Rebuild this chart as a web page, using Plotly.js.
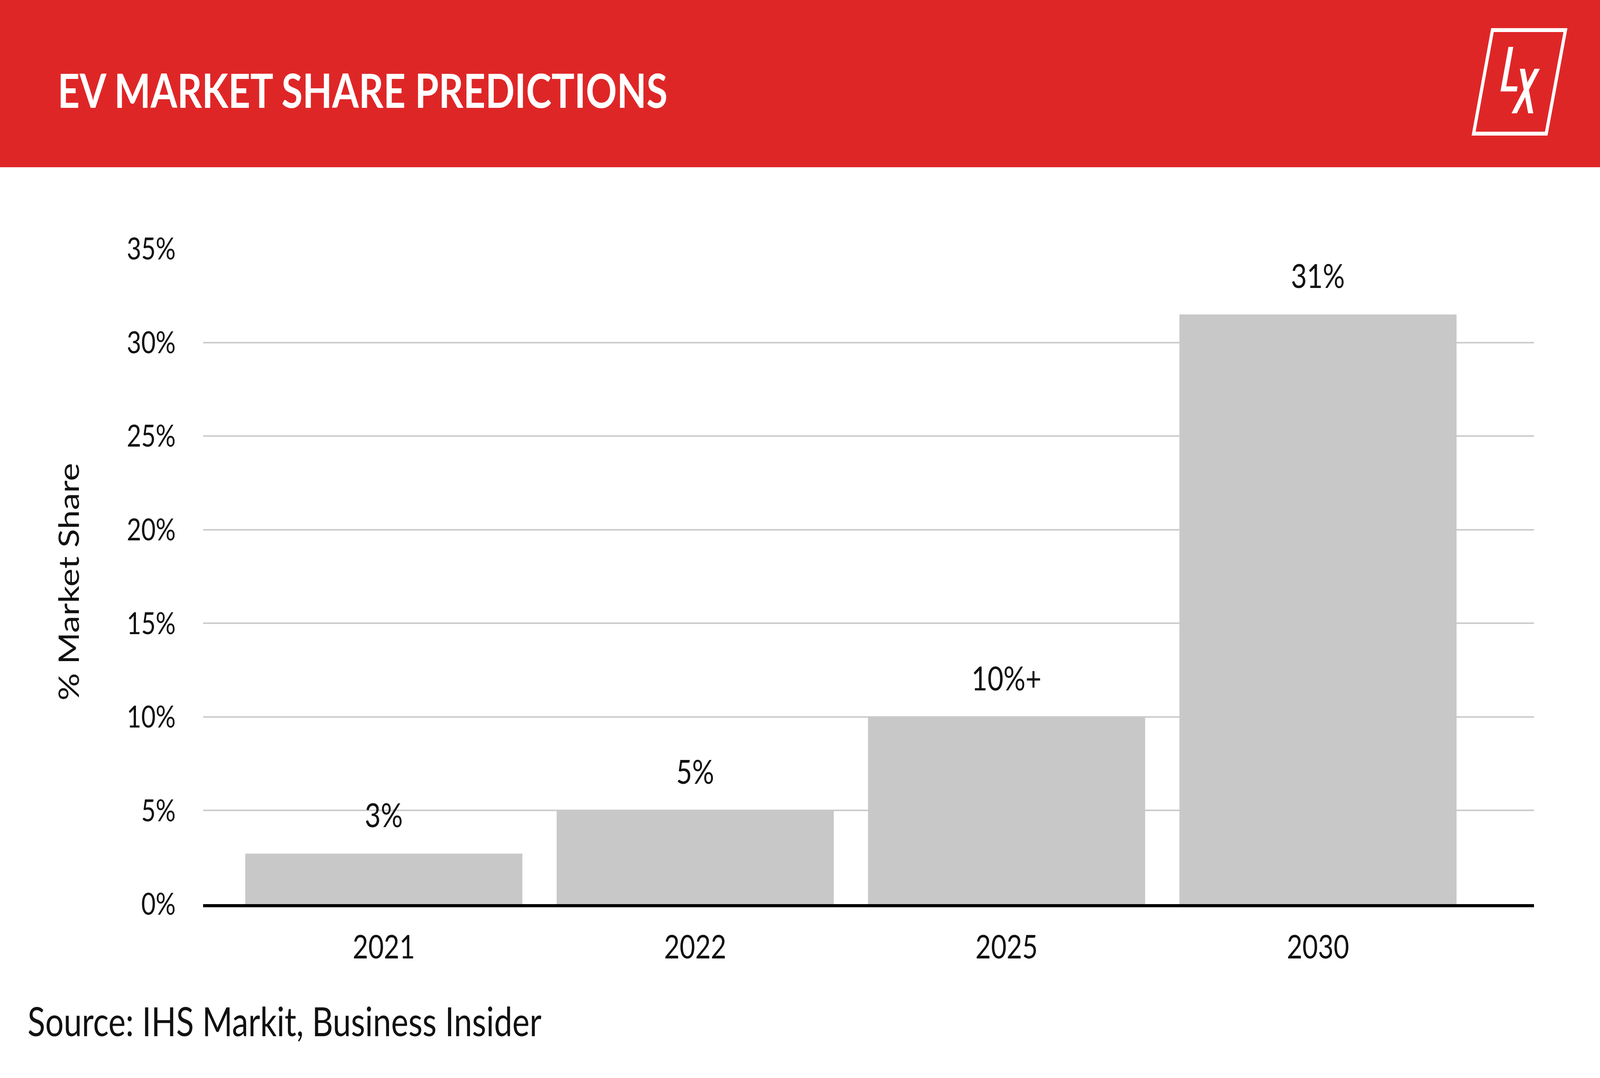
<!DOCTYPE html>
<html>
<head>
<meta charset="utf-8">
<script src="https://cdn.plot.ly/plotly-3.0.1.min.js"></script>
<style>
  html, body { margin: 0; padding: 0; background: #fff; overflow: hidden; }
  #chart { width: 5000px; height: 2759px; transform-origin: 0 0; }
</style>
</head>
<body>
<div id="chart"></div>
<script>
// data
const years = ['2021', '2022', '2025', '2030'];
const share = [2.7, 5, 10, 31.5];
const shareLabels = ['3%', '5%', '10%+', '31%'];
const yTicks = [0, 5, 10, 15, 20, 25, 30, 35];
const yTickText = ['0%', '5%', '10%', '15%', '20%', '25%', '30%', '35%'];

const W = 5000, H = 2759;
const M = { l: 635, r: 206, t: 637, b: 445 };
const plotW = W - M.l - M.r;
const plotH = H - M.t - M.b;

// the window may be narrower than the design size, so squeeze the whole page to fit it
const chartDiv = document.getElementById('chart');
chartDiv.style.transform = 'scale(' + (window.innerWidth / W) + ',' + (window.innerHeight / H) + ')';

// pixel -> paper helpers (for header and logo decoration)
const px = x => (x - M.l) / plotW;
const py = y => (H - M.b - y) / plotH;
function poly(pts) {
    return 'M ' + pts.map(p => px(p[0]) + ',' + py(p[1])).join(' L ') + ' Z';
}

const font = 'Lato, "Open Sans", sans-serif';

const trace = {
    x: years,
    y: share,
    type: 'bar',
    marker: { color: '#c8c8c8' },
    hoverinfo: 'none'
};

// value labels above the bars
const barLabels = years.map((yr, i) => ({
    x: i,
    y: share[i],
    xref: 'x',
    yref: 'y',
    text: shareLabels[i],
    showarrow: false,
    yanchor: 'bottom',
    yshift: 48,
    font: { family: font, size: 86, color: '#111' }
}));

const layout = {
    width: W,
    height: H,
    margin: M,
    paper_bgcolor: '#fff',
    plot_bgcolor: '#fff',
    showlegend: false,
    bargap: 0.11,
    xaxis: {
        type: 'category',
        range: [-0.58, 3.694],
        showgrid: false,
        showline: true,
        linecolor: '#000',
        linewidth: 8,
        ticks: '',
        ticklabelstandoff: 30,
        tickfont: { family: font, size: 84, color: '#111' },
        fixedrange: true
    },
    yaxis: {
        range: [0, 35],
        tickvals: yTicks,
        ticktext: yTickText,
        showgrid: true,
        gridcolor: '#cccccc',
        gridwidth: 4,
        zeroline: false,
        showline: false,
        ticks: '',
        ticklabelstandoff: 85,
        tickfont: { family: font, size: 78, color: '#111' },
        fixedrange: true
    },
    shapes: [
        // red header band
        {
            type: 'rect', xref: 'paper', yref: 'paper', layer: 'below',
            x0: px(0), x1: px(W), y0: py(0), y1: py(428),
            fillcolor: '#df2627', line: { width: 0 }
        },
        // logo frame
        {
            type: 'path', xref: 'paper', yref: 'paper',
            path: poly([[4664, 77], [4892, 77], [4832, 342], [4605, 342]]),
            line: { color: '#fff', width: 10 }
        },
        // logo L
        {
            type: 'path', xref: 'paper', yref: 'paper',
            path: poly([[4714, 120], [4729, 120], [4707, 221], [4742.5, 221], [4740, 234], [4689, 234]]),
            fillcolor: '#fff', line: { width: 0 }
        },
        // logo X strokes
        {
            type: 'path', xref: 'paper', yref: 'paper',
            path: poly([[4749.5, 176], [4765.5, 176], [4791.5, 290], [4775.5, 290]]),
            fillcolor: '#fff', line: { width: 0 }
        },
        {
            type: 'path', xref: 'paper', yref: 'paper',
            path: poly([[4795.5, 176], [4812, 176], [4740, 290], [4723.5, 290]]),
            fillcolor: '#fff', line: { width: 0 }
        }
    ],
    annotations: [
        {
            xref: 'paper', yref: 'paper', x: px(178), y: py(230),
            xanchor: 'left', yanchor: 'middle', showarrow: false,
            text: '<b>EV MARKET SHARE PREDICTIONS</b>',
            font: { family: font, size: 120, color: '#fff', weight: 900 }
        },
        {
            xref: 'paper', yref: 'paper', x: px(213), y: py(1489),
            xanchor: 'center', yanchor: 'middle', showarrow: false,
            textangle: -90,
            text: '% Market Share',
            font: { family: font, size: 88, color: '#111' }
        },
        {
            xref: 'paper', yref: 'paper', x: px(84), y: py(2612),
            xanchor: 'left', yanchor: 'middle', showarrow: false,
            text: 'Source: IHS Markit, Business Insider',
            font: { family: font, size: 102, color: '#111' }
        }
    ].concat(barLabels)
};

Plotly.newPlot('chart', [trace], layout, { displayModeBar: false, staticPlot: true });
</script>
</body>
</html>
